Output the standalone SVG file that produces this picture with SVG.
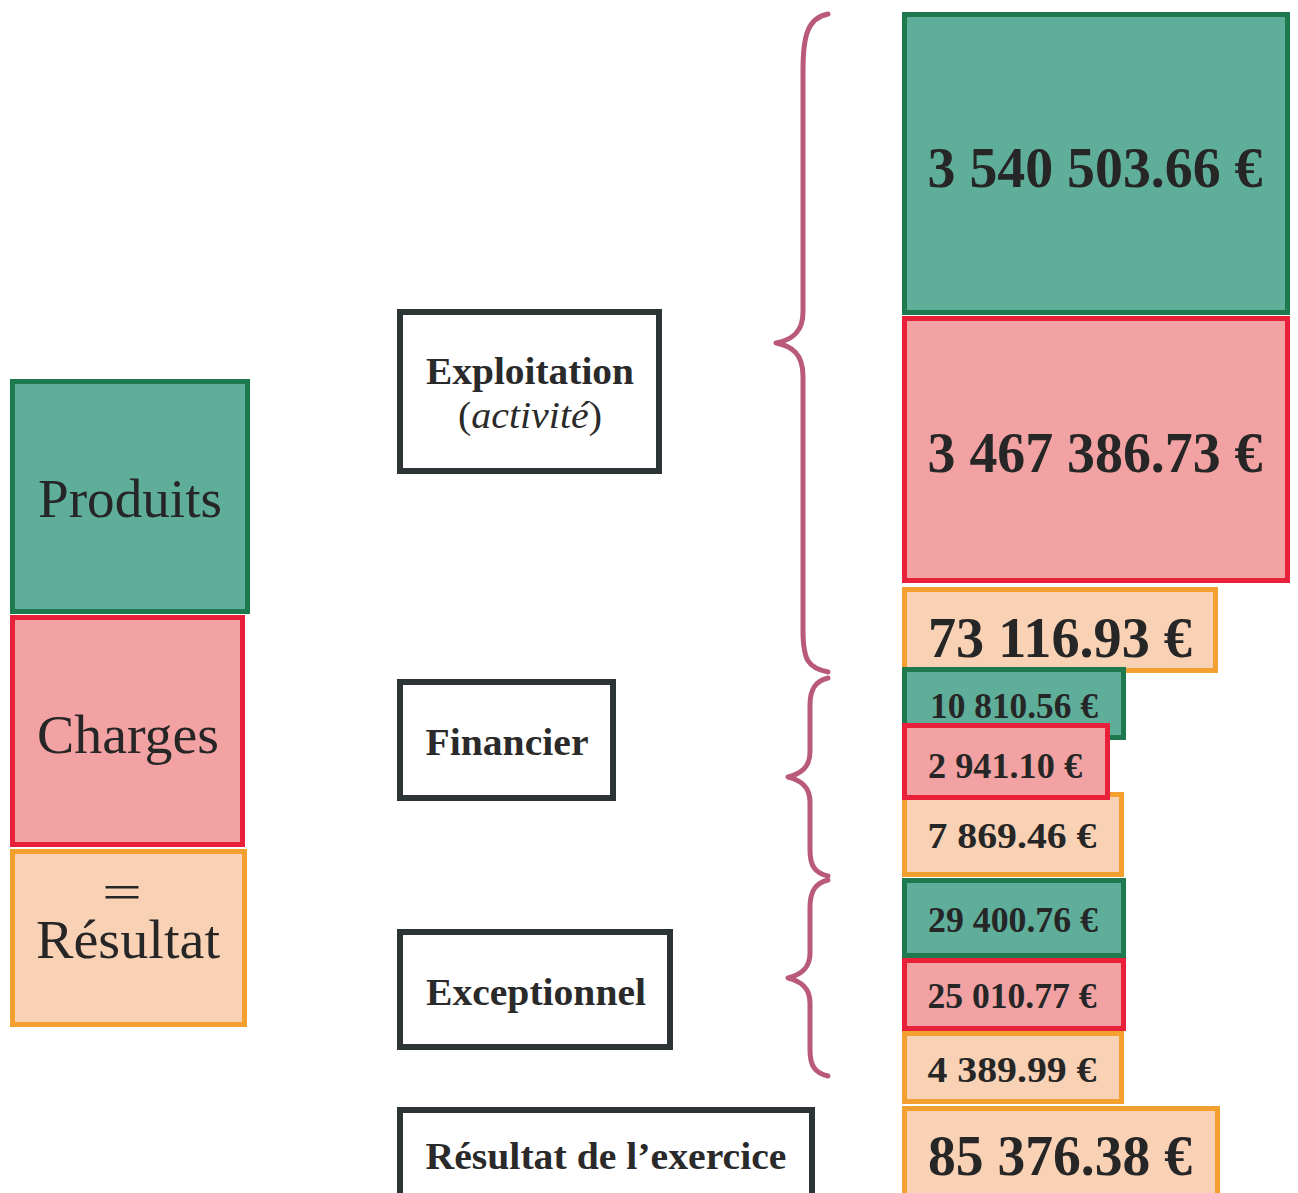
<svg xmlns="http://www.w3.org/2000/svg" width="1298" height="1193" viewBox="0 0 1298 1193">
<style>
.g{fill:#5fae9a;stroke:#1e7a4e;stroke-width:5}
.r{fill:#f2a2a3;stroke:#e8203a;stroke-width:5}
.o{fill:#f9d1b5;stroke:#f4a030;stroke-width:5}
.lb{fill:#ffffff;stroke:#2d3436;stroke-width:6}
.num{font-family:"Liberation Serif",serif;font-weight:bold;fill:#262626}
.lab{font-family:"Liberation Serif",serif;font-weight:bold;fill:#2a2a2a;font-size:37px}
.big{font-family:"Liberation Serif",serif;fill:#262626;font-size:54px}
.brace{fill:none;stroke:#b85a78;stroke-width:5;stroke-linecap:round;stroke-linejoin:round}
</style>
<rect width="1298" height="1193" fill="#ffffff"/>
<g id="legend-produits">
<rect class="g" x="12.5" y="381.5" width="235" height="230"/>
<text class="big" x="130" y="517" text-anchor="middle" textLength="184" lengthAdjust="spacingAndGlyphs">Produits</text>
</g>
<g id="legend-charges">
<rect class="r" x="12.5" y="617.5" width="230" height="227"/>
<text class="big" x="128" y="753" text-anchor="middle" textLength="182" lengthAdjust="spacingAndGlyphs">Charges</text>
</g>
<g id="legend-resultat">
<rect class="o" x="12.5" y="851.5" width="232" height="173"/>
<text x="122" y="909" text-anchor="middle" font-family="Liberation Serif, serif" font-size="50" fill="#262626" textLength="40" lengthAdjust="spacingAndGlyphs">=</text>
<text class="big" x="128" y="958" text-anchor="middle" textLength="184" lengthAdjust="spacingAndGlyphs">Résultat</text>
</g>
<g id="label-exploitation">
<rect class="lb" x="400" y="312" width="259" height="159"/>
<text class="lab" x="530" y="384" text-anchor="middle" textLength="208" lengthAdjust="spacingAndGlyphs">Exploitation</text>
<text x="530" y="428" text-anchor="middle" font-family="Liberation Serif, serif" font-size="37" fill="#2a2a2a" textLength="144" lengthAdjust="spacingAndGlyphs">(<tspan font-style="italic">activité</tspan>)</text>
</g>
<g id="label-financier">
<rect class="lb" x="400" y="682" width="213" height="116"/>
<text class="lab" x="507" y="755" text-anchor="middle" textLength="163" lengthAdjust="spacingAndGlyphs">Financier</text>
</g>
<g id="label-exceptionnel">
<rect class="lb" x="400" y="932" width="270" height="115"/>
<text class="lab" x="536" y="1005" text-anchor="middle" textLength="220" lengthAdjust="spacingAndGlyphs">Exceptionnel</text>
</g>
<g id="label-resultat-exercice">
<rect class="lb" x="400" y="1110" width="412" height="100"/>
<text class="lab" x="606" y="1169" text-anchor="middle" textLength="361" lengthAdjust="spacingAndGlyphs">Résultat de l’exercice</text>
</g>
<g id="exploitation-produits">
<rect class="g" x="904.5" y="14.5" width="383" height="298"/>
<text class="num" x="1095" y="187" font-size="58" text-anchor="middle" textLength="335" lengthAdjust="spacingAndGlyphs">3 540 503.66 €</text>
</g>
<g id="exploitation-charges">
<rect class="r" x="904.5" y="318.5" width="383" height="262"/>
<text class="num" x="1095" y="472" font-size="58" text-anchor="middle" textLength="335" lengthAdjust="spacingAndGlyphs">3 467 386.73 €</text>
</g>
<g id="exploitation-resultat">
<rect class="o" x="904.5" y="589.5" width="311" height="81"/>
<text class="num" x="1060" y="657" font-size="58" text-anchor="middle" textLength="264" lengthAdjust="spacingAndGlyphs">73 116.93 €</text>
</g>
<g id="financier-produits">
<rect class="g" x="904.5" y="669.5" width="219" height="68"/>
<text class="num" x="1014" y="718" font-size="36" text-anchor="middle" textLength="168" lengthAdjust="spacingAndGlyphs">10 810.56 €</text>
</g>
<g id="financier-resultat">
<rect class="o" x="904.5" y="794.5" width="217" height="80"/>
<text class="num" x="1012" y="848" font-size="36" text-anchor="middle" textLength="169" lengthAdjust="spacingAndGlyphs">7 869.46 €</text>
</g>
<g id="financier-charges">
<rect class="r" x="904.5" y="725.5" width="203" height="72"/>
<text class="num" x="1005" y="778" font-size="36" text-anchor="middle" textLength="154" lengthAdjust="spacingAndGlyphs">2 941.10 €</text>
</g>
<g id="exceptionnel-produits">
<rect class="g" x="904.5" y="880.5" width="219" height="75"/>
<text class="num" x="1013" y="932" font-size="36" text-anchor="middle" textLength="170" lengthAdjust="spacingAndGlyphs">29 400.76 €</text>
</g>
<g id="exceptionnel-charges">
<rect class="r" x="904.5" y="960.5" width="219" height="68"/>
<text class="num" x="1012" y="1008" font-size="36" text-anchor="middle" textLength="169" lengthAdjust="spacingAndGlyphs">25 010.77 €</text>
</g>
<g id="exceptionnel-resultat">
<rect class="o" x="904.5" y="1033.5" width="217" height="68"/>
<text class="num" x="1012" y="1082" font-size="36" text-anchor="middle" textLength="169" lengthAdjust="spacingAndGlyphs">4 389.99 €</text>
</g>
<g id="resultat-exercice">
<rect class="o" x="904.5" y="1108.5" width="313" height="95"/>
<text class="num" x="1060" y="1175" font-size="58" text-anchor="middle" textLength="264" lengthAdjust="spacingAndGlyphs">85 376.38 €</text>
</g>
<g id="connectors">
<path class="brace" d="M828,14 C808,18 803,35 803,70 L803,312 C803,332 792,340 776,343 C792,346 803,354 803,376 L803,630 C803,660 808,668 828,672"/>
<path class="brace" d="M828,678 C815,681 810,690 810,705 L810,752 C810,768 800,774 788,777 C800,780 810,786 810,802 L810,850 C810,866 815,873 828,876"/>
<path class="brace" d="M828,880 C815,883 810,892 810,907 L810,953 C810,969 800,975 788,978 C800,981 810,987 810,1003 L810,1050 C810,1066 815,1073 828,1076"/>
</g>
</svg>
